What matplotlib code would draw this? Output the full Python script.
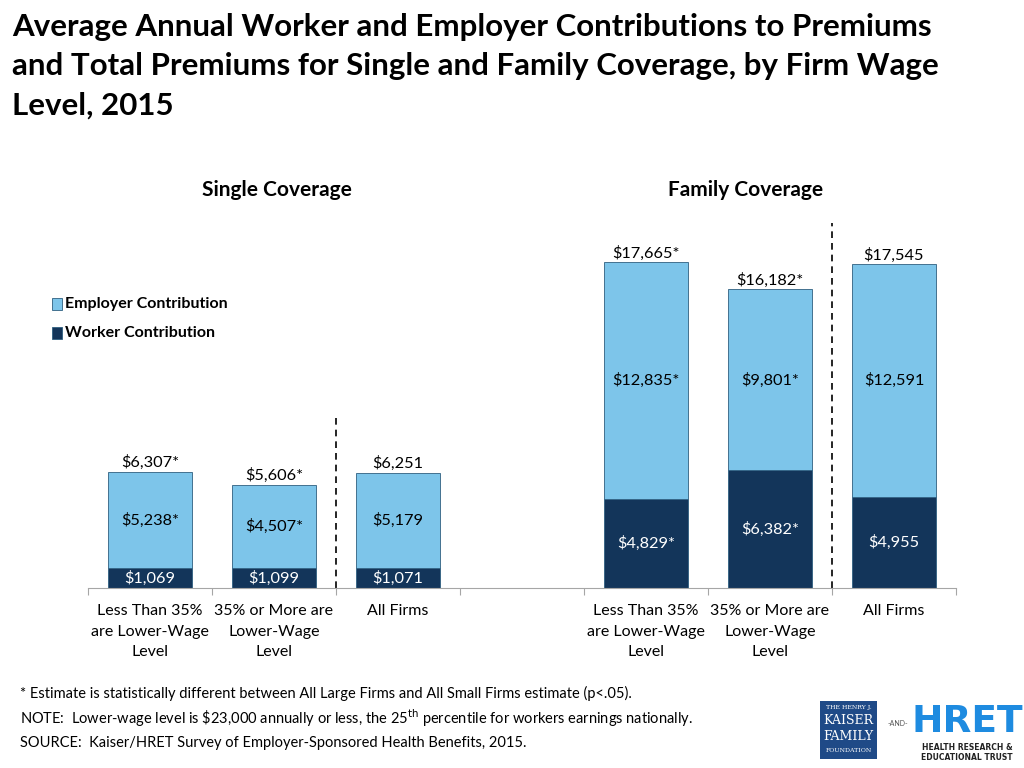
import matplotlib
matplotlib.use("Agg")
import matplotlib.pyplot as plt
from matplotlib.patches import Rectangle

plt.rcParams['font.family'] = ['Lato', 'DejaVu Sans']

# data
categories = ["Less Than 35%\nare Lower-Wage\nLevel", "35% or More are\nLower-Wage\nLevel", "All Firms",
              "Less Than 35%\nare Lower-Wage\nLevel", "35% or More are\nLower-Wage\nLevel", "All Firms"]
worker = [1069, 1099, 1071, 4829, 6382, 4955]
employer = [5238, 4507, 5179, 12835, 9801, 12591]
totals = [6307, 5606, 6251, 17665, 16182, 17545]
worker_labels = ["$1,069", "$1,099", "$1,071", "$4,829*", "$6,382*", "$4,955"]
employer_labels = ["$5,238*", "$4,507*", "$5,179", "$12,835*", "$9,801*", "$12,591"]
total_labels = ["$6,307*", "$5,606*", "$6,251", "$17,665*", "$16,182*", "$17,545"]

emp_color = "#7DC5EA"
wrk_color = "#13355A"
edge = "#2F5F80"

fig = plt.figure(figsize=(10.24, 7.68), dpi=100)
ax = fig.add_axes([88/1024, 1 - 588/768, (956-88)/1024, (588-219)/768])

xpos = [0, 1, 2, 4, 5, 6]
width = 0.68
ax.bar(xpos, worker, width, color=wrk_color, edgecolor=edge, linewidth=0.6, zorder=2)
ax.bar(xpos, employer, width, bottom=worker, color=emp_color, edgecolor=edge, linewidth=0.6, zorder=2)

for x, w, e, t, wl, el, tl in zip(xpos, worker, employer, totals, worker_labels, employer_labels, total_labels):
    ax.text(x, w / 2, wl, ha="center", va="center", color="white", fontsize=11.8)
    ax.text(x, w + e / 2, el, ha="center", va="center", color="black", fontsize=11.8)
    ax.text(x, t + 80, tl, ha="center", va="bottom", color="black", fontsize=11.8)

ax.set_xlim(-0.5, 6.5)
ax.set_ylim(0, 20000)
for s in ["top", "right", "left"]:
    ax.spines[s].set_visible(False)
ax.spines["bottom"].set_color("#A6A6A6")
ax.set_yticks([])
ax.set_xticks([-0.5, 0.5, 1.5, 2.5, 3.5, 4.5, 5.5, 6.5])
ax.set_xticklabels([])
ax.tick_params(axis="x", length=5, color="#A6A6A6", direction="out")
for x, lab in zip(xpos, categories):
    ax.text(x, -850, lab, ha="center", va="top", fontsize=11.5, linespacing=1.62)

# dashed dividers
ax.plot([1.5, 1.5], [0, 9500], ls=(0, (4, 3)), color="black", lw=1.2, clip_on=False)
ax.plot([5.5, 5.5], [0, 19800], ls=(0, (4, 3)), color="black", lw=1.2, clip_on=False)

# legend
fig.patches.append(Rectangle((52/1024, 1 - 310/768), 10/1024, 12/768, transform=fig.transFigure,
                             facecolor=emp_color, edgecolor=edge, lw=0.6))
fig.patches.append(Rectangle((52/1024, 1 - 339/768), 10/1024, 12/768, transform=fig.transFigure,
                             facecolor=wrk_color, edgecolor=edge, lw=0.6))
fig.text(65/1024, 1 - 304/768, "Employer Contribution", fontsize=11.5, fontweight="bold", va="center")
fig.text(65/1024, 1 - 333/768, "Worker Contribution", fontsize=11.5, fontweight="bold", va="center")

# titles
fig.text(12/1024, 1 - 13/768,
         "Average Annual Worker and Employer Contributions to Premiums\n"
         "and Total Premiums for Single and Family Coverage, by Firm Wage\n"
         "Level, 2015", fontsize=22.5, fontweight="bold", va="top", ha="left", linespacing=1.5)
fig.text(277/1024, 1 - 190/768, "Single Coverage", fontsize=15, fontweight="bold", ha="center", va="center")
fig.text(746/1024, 1 - 190/768, "Family Coverage", fontsize=15, fontweight="bold", ha="center", va="center")

# footnotes
fig.text(20/1024, 1 - 693/768,
         "* Estimate is statistically different between All Large Firms and All Small Firms estimate (p<.05).",
         fontsize=10.5, va="center")
fig.text(20/1024, 1 - 718/768,
         r"NOTE:  Lower-wage level is \$23,000 annually or less, the 25$^{\mathrm{th}}$ percentile for workers earnings nationally.",
         fontsize=10.5, va="center")
fig.text(20/1024, 1 - 743/768,
         "SOURCE:  Kaiser/HRET Survey of Employer-Sponsored Health Benefits, 2015.",
         fontsize=10.5, va="center")

# logos
fig.patches.append(Rectangle((820/1024, 1 - 759/768), 57/1024, 58/768, transform=fig.transFigure,
                             facecolor="#1F4A87", edgecolor="none"))
fig.text(848.5/1024, 1 - 708/768, "THE HENRY J.", fontsize=4.5, color="white", ha="center", va="center",
         family="DejaVu Serif")
fig.text(848.5/1024, 1 - 721/768, "KAISER", fontsize=9, color="white", ha="center", va="center",
         family="DejaVu Serif")
fig.text(848.5/1024, 1 - 736/768, "FAMILY", fontsize=9, color="white", ha="center", va="center",
         family="DejaVu Serif")
fig.text(848.5/1024, 1 - 751/768, "FOUNDATION", fontsize=4.5, color="white", ha="center", va="center",
         family="DejaVu Serif")
fig.text(898/1024, 1 - 724/768, "-AND-", fontsize=5, color="#555555", ha="center", va="center")
fig.text(967/1024, 1 - 722/768, "HRET", fontsize=27, color="#1E8BE0", ha="center", va="center",
         fontweight="bold", family="DejaVu Sans")
fig.text(967/1024, 1 - 748/768, "HEALTH RESEARCH &", fontsize=5.5, color="#222222", ha="center", va="center",
         fontweight="bold", family="DejaVu Sans")
fig.text(967/1024, 1 - 758/768, "EDUCATIONAL TRUST", fontsize=5.5, color="#222222", ha="center", va="center",
         fontweight="bold", family="DejaVu Sans")

fig.savefig("out.png", dpi=100)
